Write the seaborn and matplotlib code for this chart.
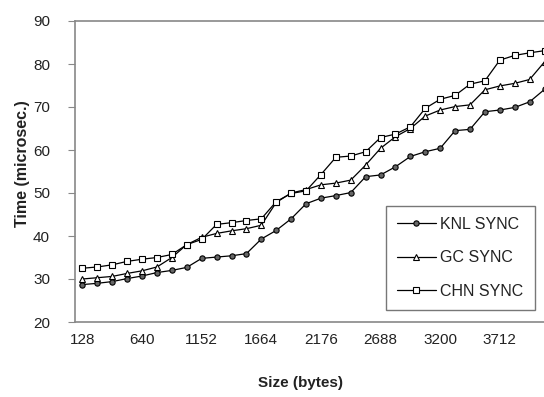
import numpy as np
import pandas as pd
import matplotlib
matplotlib.use("Agg")
import matplotlib.pyplot as plt
import seaborn as sns

# message sizes (bytes) - one category per point
sizes = [128, 256, 384, 512, 640, 768, 896, 1024, 1152, 1280, 1408, 1536,
         1664, 1792, 1920, 2048, 2176, 2304, 2432, 2560, 2688, 2816, 2944, 3072,
         3200, 3328, 3456, 3584, 3712, 3840, 3968, 4096]

knl_sync = [28.7, 29.0, 29.4, 30.1, 30.7, 31.5, 32.0, 32.7, 34.8, 35.1, 35.4, 35.9,
            39.3, 41.3, 44.0, 47.5, 48.8, 49.4, 50.1, 53.8, 54.2, 56.1, 58.5, 59.6,
            60.4, 64.5, 64.8, 68.9, 69.3, 69.9, 71.2, 74.1]
gc_sync = [30.0, 30.3, 30.6, 31.3, 31.9, 32.8, 35.0, 38.0, 39.7, 40.6, 41.2, 41.7,
           42.5, 47.8, 50.0, 50.8, 51.9, 52.3, 53.0, 56.5, 60.4, 63.1, 65.0, 67.9,
           69.3, 70.1, 70.5, 74.0, 74.9, 75.5, 76.4, 80.5]
chn_sync = [32.5, 32.8, 33.3, 34.1, 34.6, 35.0, 35.7, 38.0, 39.2, 42.7, 43.1, 43.6,
            44.0, 48.0, 49.9, 50.5, 54.3, 58.3, 58.6, 59.6, 62.9, 63.7, 65.4, 69.7,
            71.8, 72.7, 75.3, 76.1, 80.9, 82.0, 82.6, 83.1]

series_names = ["KNL SYNC", "GC SYNC", "CHN SYNC"]
tick_labels = ["128", "640", "1152", "1664", "2176", "2688", "3200", "3712"]

sns.set_style("white")
plt.rcParams['font.family'] = ['Liberation Sans', 'DejaVu Sans']

df = pd.DataFrame({"pos": np.arange(len(sizes)),
                   "KNL SYNC": knl_sync, "GC SYNC": gc_sync, "CHN SYNC": chn_sync})
long_df = df.melt(id_vars="pos", var_name="series", value_name="time")

fig = plt.figure(figsize=(5.44, 3.97), dpi=100)
ax = fig.add_axes([75 / 544, 75 / 397, 477 / 544, 301 / 397])

styles = {
    "KNL SYNC": dict(marker="o", markersize=3.8, markerfacecolor="#666666"),
    "GC SYNC": dict(marker="^", markersize=5, markerfacecolor="white"),
    "CHN SYNC": dict(marker="s", markersize=5, markerfacecolor="white"),
}
for name in series_names:
    sub = long_df[long_df["series"] == name]
    sns.lineplot(data=sub, x="pos", y="time", ax=ax, color="black", lw=0.9,
                 markeredgecolor="black", markeredgewidth=0.8, label=name,
                 **styles[name])

ax.set_xlim(-0.5, len(sizes) - 0.5)
ax.set_ylim(20, 90)
ax.set_yticks(np.arange(20, 91, 10))

ax.set_xticks(np.arange(0, len(sizes), 4))
ax.set_xticklabels(tick_labels)
ax.set_xticks(np.arange(-0.5, len(sizes), 1), minor=True)
ax.tick_params(axis="x", which="major", length=0, pad=8, labelsize=11, colors="#222222")
ax.tick_params(axis="x", which="minor", length=4, width=0.8, color="#888888", direction="out")
ax.tick_params(axis="y", length=5, width=0.8, color="#888888", direction="out",
               pad=13, labelsize=11, labelcolor="#222222")
ax.tick_params(left=True, bottom=True)

for side in ["left", "bottom", "top", "right"]:
    ax.spines[side].set_color("#888888")
    ax.spines[side].set_linewidth(1.2)

ax.set_xlabel("Size (bytes)", fontsize=11, fontweight="bold", color="#222222")
ax.set_ylabel("Time (microsec.)", fontsize=11.5, fontweight="bold", color="#222222")
ax.xaxis.set_label_coords((300 - 75) / 477, -(376 - 322) / 301)
ax.yaxis.set_label_coords(-(75 - 30) / 477, (322 - 164) / 301)

leg = ax.legend(loc="lower left", bbox_to_anchor=(0.652, 0.04), frameon=True,
                fancybox=False, edgecolor="#555555", fontsize=11.5, labelspacing=1.15,
                handlelength=2.4, borderpad=0.7, handletextpad=0.3, borderaxespad=0)
leg.get_frame().set_linewidth(1.0)
for t in leg.get_texts():
    t.set_color("#222222")

fig.savefig("out.png", dpi=100)
